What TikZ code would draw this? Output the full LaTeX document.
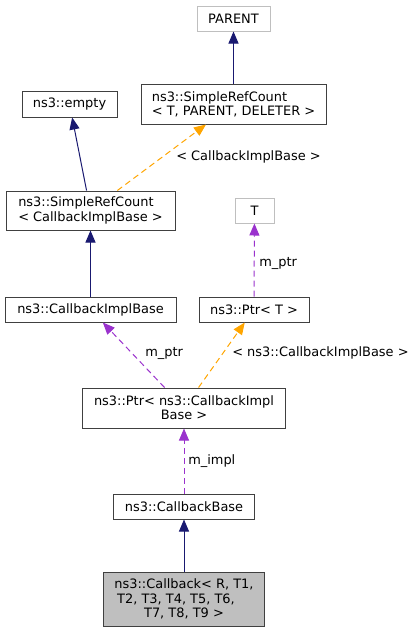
\documentclass[tikz,border=0pt]{standalone}
\usepackage{fontspec}
\setmainfont{DejaVu Sans}
\usetikzlibrary{arrows.meta}
\definecolor{edgeNavy}{HTML}{191970}
\definecolor{edgeOrange}{HTML}{FFA500}
\definecolor{edgePurple}{HTML}{9A32CD}
\definecolor{boxLine}{HTML}{404040}
\definecolor{boxGrey}{HTML}{BFBFBF}
\begin{document}
\begin{tikzpicture}[
    x=0.75pt, y=-0.75pt,
    every node/.style={font=\fontsize{9.7}{10.7}\selectfont, inner sep=0pt},
    class box/.style={draw=boxLine, line width=0.75pt, minimum height=18.75pt},
    extern box/.style={draw=boxGrey, line width=0.75pt, minimum height=18.75pt},
    inherit line/.style={draw=edgeNavy, line width=0.75pt, -{Triangle[length=9pt,width=7.5pt]}},
    template line/.style={draw=edgeOrange, line width=0.75pt, dash pattern=on 4.5pt off 3pt, -{Triangle[length=9pt,width=7.5pt]}},
    member line/.style={draw=edgePurple, line width=0.75pt, dash pattern=on 4.5pt off 3pt, -{Triangle[length=9pt,width=7.5pt]}},
    edge label/.style={anchor=west},
    ]
\useasboundingbox (0,0) rectangle (416,632);
\node[extern box, minimum width=54.75pt] (PARENT) at (233.5,18.5) {PARENT};
\node[class box, minimum width=138.75pt, minimum height=30pt, align=left] (refCountT) at (233.5,104) {ns3::SimpleRefCount\\< T, PARENT, DELETER >};
\node[class box, minimum width=71.25pt, minimum height=19.5pt] (empty) at (69.5,104) {ns3::empty};
\node[class box, minimum width=126.75pt, minimum height=29.25pt, align=left] (refCountImpl) at (90.5,210.5) {ns3::SimpleRefCount\\< CallbackImplBase >};
\node[extern box, minimum width=29.25pt] (T) at (254.5,210.5) {T};
\node[class box, minimum width=128.25pt] (implBase) at (90.5,309.5) {ns3::CallbackImplBase};
\node[class box, minimum width=82.5pt] (ptrT) at (254,309.5) {ns3::Ptr< T >};
\node[class box, minimum width=152.25pt, minimum height=30pt, align=center] (ptrImpl) at (184,408) {ns3::Ptr< ns3::CallbackImpl\\Base >};
\node[class box, minimum width=105.75pt] (callbackBase) at (184,506.5) {ns3::CallbackBase};
\node[class box, fill=boxGrey, minimum width=120.75pt, minimum height=40.5pt, align=center] (callback) at (184,599) {ns3::Callback< R, T1,\\T2, T3, T4, T5, T6,\rule{12pt}{0pt}\\T7, T8, T9 >};
\path[inherit line] (refCountT) -- (PARENT);
\path[inherit line] (refCountImpl) -- (empty);
\path[template line] (refCountImpl) -- (refCountT);
\path[inherit line] (implBase) -- (refCountImpl);
\path[member line] (ptrT) -- (T);
\path[member line] (ptrImpl) -- (implBase);
\path[template line] (ptrImpl) -- (ptrT);
\path[member line] (callbackBase) -- (ptrImpl);
\path[inherit line] (callback) -- (callbackBase);
\node[edge label] (refCountLabel) at (176,157) {< CallbackImplBase >};
\node[edge label] (ptrTLabel) at (259,263) {m\_ptr};
\node[edge label] (ptrImplLabel) at (145,353) {m\_ptr};
\node[edge label] (ptrTemplateLabel) at (232,353) {< ns3::CallbackImplBase >};
\node[edge label] (implLabel) at (188,461) {m\_impl};
\end{tikzpicture}
\end{document}
